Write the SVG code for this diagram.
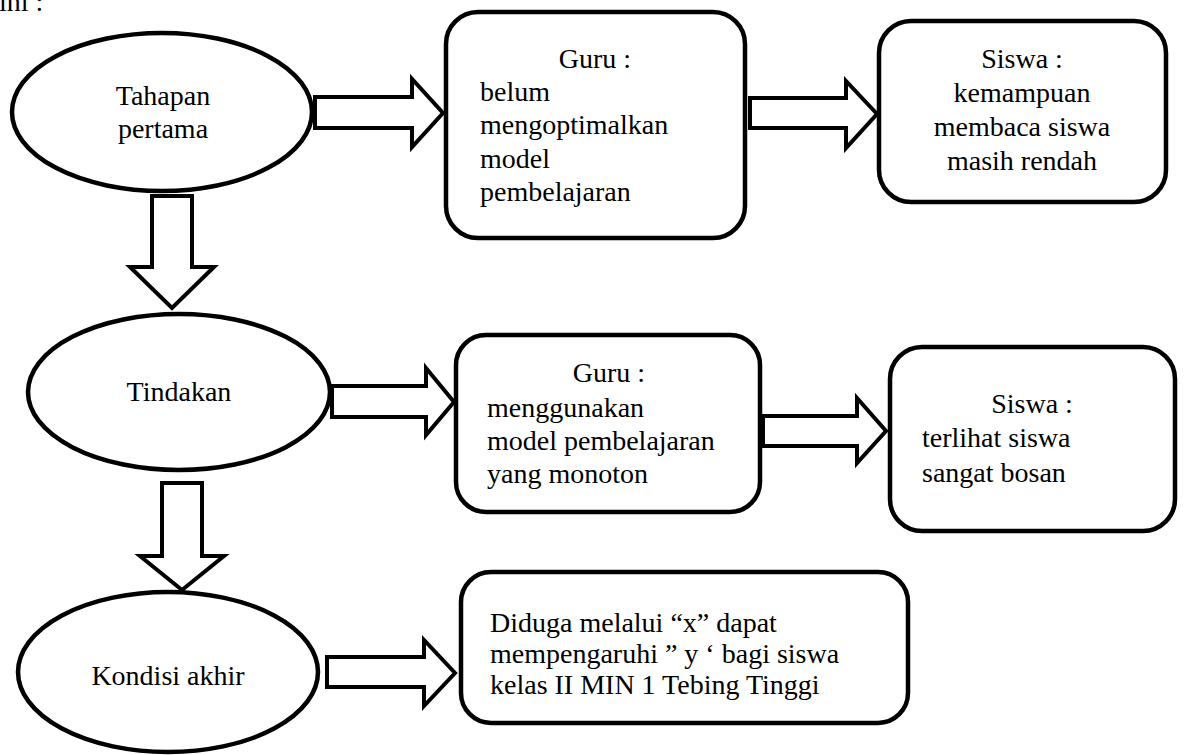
<svg xmlns="http://www.w3.org/2000/svg" width="1186" height="755" viewBox="0 0 1186 755">
<style>
text{font-family:'Liberation Serif','Times New Roman','DejaVu Serif',Times,serif;font-size:28px;fill:#000}
.c{text-anchor:middle}
.node{fill:#fff;stroke:#000;stroke-width:4.5}
.arr{fill:#fff;stroke:#000;stroke-width:4;stroke-linejoin:miter;stroke-miterlimit:10}
</style>
<rect width="1186" height="755" fill="#fff"/>
<g font-family="Liberation Serif, Times New Roman, serif">
<text x="-1" y="11">ini :</text>
<g id="connectors">
<polygon class="arr" points="315,97 412,97 412,79 443,113 412,147 412,128 315,128"/>
<polygon class="arr" points="750,98 846,98 846,81 877,114 846,148 846,128 750,128"/>
<polygon class="arr" points="332,386 426,386 426,368 454,402 426,435 426,417 332,417"/>
<polygon class="arr" points="763,416 857,416 857,398 886,431 857,463 857,446 763,446"/>
<polygon class="arr" points="327,657 424,657 424,640 455,673 424,706 424,687 327,687"/>
<polygon class="arr" points="152,196 192,196 192,267 214,267 172,308 130,267 152,267"/>
<polygon class="arr" points="162,483 202,483 202,556 224,556 182,590 140,556 162,556"/>
</g>
<g id="tahapan">
<ellipse class="node" cx="162" cy="112" rx="150" ry="79"/>
<text class="c" x="163" y="105">Tahapan</text>
<text class="c" x="163" y="138">pertama</text>
</g>
<g id="guru1">
<rect class="node" x="446" y="12" width="299" height="226" rx="32"/>
<text class="c" x="595" y="68">Guru :</text>
<text x="480" y="101">belum</text>
<text x="480" y="134">mengoptimalkan</text>
<text x="480" y="168">model</text>
<text x="480" y="201">pembelajaran</text>
</g>
<g id="siswa1">
<rect class="node" x="879" y="21" width="287" height="181" rx="32"/>
<text class="c" x="1022" y="68">Siswa :</text>
<text class="c" x="1022" y="102">kemampuan</text>
<text class="c" x="1022" y="136">membaca siswa</text>
<text class="c" x="1022" y="170">masih rendah</text>
</g>
<g id="tindakan">
<ellipse class="node" cx="179" cy="392" rx="151" ry="78"/>
<text class="c" x="179" y="401">Tindakan</text>
</g>
<g id="guru2">
<rect class="node" x="456" y="335" width="304" height="177" rx="30"/>
<text class="c" x="609" y="382">Guru :</text>
<text x="487" y="417">menggunakan</text>
<text x="487" y="450">model pembelajaran</text>
<text x="487" y="483">yang monoton</text>
</g>
<g id="siswa2">
<rect class="node" x="890" y="347" width="285" height="184" rx="32"/>
<text class="c" x="1032" y="413">Siswa :</text>
<text x="922" y="447">terlihat siswa</text>
<text x="922" y="482">sangat bosan</text>
</g>
<g id="kondisi">
<ellipse class="node" cx="168" cy="672" rx="150" ry="80"/>
<text class="c" x="168" y="685">Kondisi akhir</text>
</g>
<g id="dugaan">
<rect class="node" x="461" y="572" width="447" height="151" rx="30"/>
<text x="490" y="632">Diduga melalui “x” dapat</text>
<text x="490" y="663">mempengaruhi ” y ‘ bagi siswa</text>
<text x="490" y="694">kelas II MIN 1 Tebing Tinggi</text>
</g>
</g>
</svg>
